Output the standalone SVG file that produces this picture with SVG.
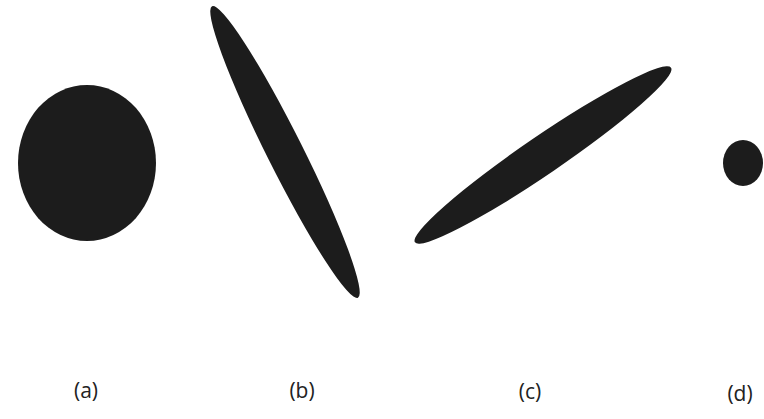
<svg xmlns="http://www.w3.org/2000/svg" width="764" height="419" viewBox="0 0 764 419">
<style>
.blob{fill:#1c1c1c}
.lbl{font-family:"Open Sans","Liberation Sans",sans-serif;font-size:21px;fill:#222;text-anchor:middle}
</style>
<rect width="764" height="419" fill="#fff"/>
<g id="a"><ellipse class="blob" cx="87" cy="163" rx="69" ry="78"/><text class="lbl" x="86" y="398">(a)</text></g>
<g id="b"><ellipse class="blob" cx="285" cy="152" rx="163" ry="18" transform="rotate(63.4 285 152)"/><text class="lbl" x="302" y="398">(b)</text></g>
<g id="c"><ellipse class="blob" cx="543" cy="155" rx="155" ry="19" transform="rotate(-34.3 543 155)"/><text class="lbl" x="530" y="399">(c)</text></g>
<g id="d"><ellipse class="blob" cx="743" cy="163" rx="20" ry="23"/><text class="lbl" x="740" y="401">(d)</text></g>
</svg>
